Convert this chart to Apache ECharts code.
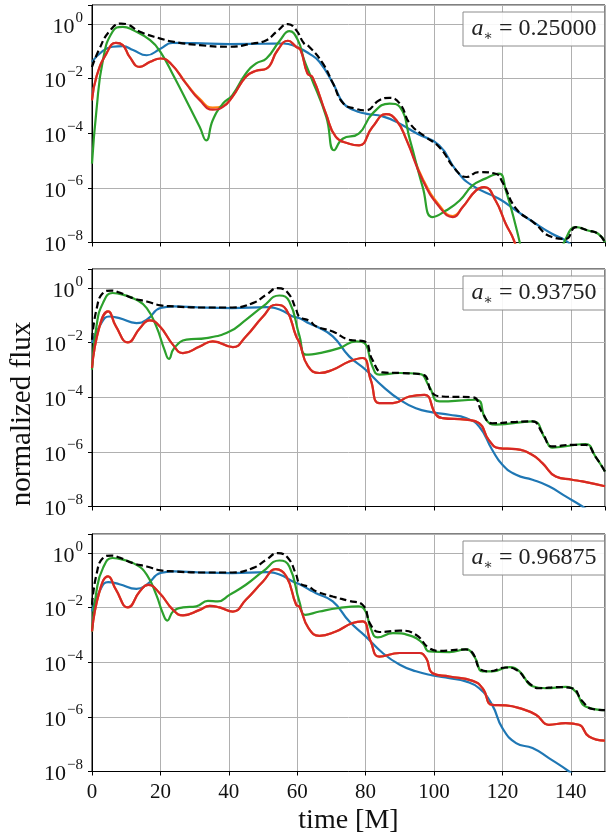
<!DOCTYPE html>
<html>
<head>
<meta charset="utf-8">
<script src="https://cdn.jsdelivr.net/npm/echarts@6/dist/echarts.min.js"></script>
<style>
html, body { margin: 0; padding: 0; background: #fff; }
#chart { width: 606px; height: 837px; }
</style>
</head>
<body>
<div id="chart"></div>
<script>
// values are log10(normalized flux); pairs are [time, log10 flux]
var spins = ['0.25000', '0.93750', '0.96875'];
var xTicks = [0, 20, 40, 60, 80, 100, 120, 140];
var yTicks = [-8, -6, -4, -2, 0];

var blue1 = [[0,-1.38],[3,-1.0],[6,-0.83],[9,-0.81],[12,-0.95],[16,-1.14],[20,-0.9],[23.5,-0.69],[30,-0.7],[40,-0.73],[50,-0.72],[56,-0.71],[59.7,-0.83],[63.5,-1.08],[66.5,-1.38],[70.5,-2.18],[73.5,-2.9],[76.5,-3.15],[80,-3.28],[85,-3.38],[90,-3.65],[95,-4.01],[101.5,-4.44],[106.5,-5.36],[111,-5.9],[119,-6.4],[124,-6.83],[129,-7.25],[134.5,-7.68],[138.5,-7.93],[142,-8.3],[150,-9]];
var orange1 = [[0,-2.79],[1.3,-1.93],[4.2,-1.08],[7,-0.69],[9,-0.77],[11,-1.2],[14,-1.57],[17,-1.38],[20,-1.26],[23,-1.44],[27.5,-2.16],[31.5,-2.74],[35.3,-3.06],[38.3,-3.0],[41,-2.67],[45,-1.93],[48,-1.71],[51,-1.63],[54.3,-0.95],[57.3,-0.61],[59.7,-0.83],[61,-0.95],[63,-1.81],[64.5,-1.95],[68.4,-3.28],[71.3,-4.13],[75.2,-4.38],[78.1,-4.44],[82,-3.77],[86,-3.3],[89,-3.52],[92,-4.24],[96.7,-5.66],[101.6,-6.64],[105.5,-7.03],[108.4,-6.7],[112.3,-6.09],[114.7,-5.97],[118,-6.46],[121,-7.32],[123.4,-7.93],[126,-9]];
var green1 = [[0,-5.11],[1.3,-3.16],[3.2,-1.32],[6,-0.28],[9,-0.1],[12,-0.22],[17,-0.59],[20,-1.02],[24,-1.93],[28.5,-3.03],[31.5,-3.77],[33.4,-4.26],[35.3,-3.52],[38.3,-2.91],[41,-2.61],[45,-1.81],[48,-1.44],[51,-1.26],[55,-0.59],[57.7,-0.26],[60.2,-0.59],[62,-1.3],[64,-1.93],[68.5,-3.4],[70.8,-4.62],[73.3,-4.2],[78,-4.01],[82,-3.28],[87,-2.91],[90,-3.03],[93,-4.26],[96.7,-5.97],[99.6,-7.07],[103.5,-6.83],[107.5,-6.46],[111.3,-5.91],[115,-5.66],[119,-5.48],[121,-6.09],[124,-7.44],[126,-8.5],[128,-9.5],[135,-9.5],[137,-8.5],[138.5,-7.87],[141.5,-7.44],[145,-7.56],[148,-7.68],[150,-7.99]];
var red1 = [[0,-2.79],[1.3,-1.93],[4.2,-1.08],[7,-0.69],[9,-0.77],[11,-1.2],[14,-1.57],[17,-1.38],[20,-1.26],[23,-1.44],[27.5,-2.18],[31.5,-2.79],[35.3,-3.13],[38.3,-3.03],[41,-2.67],[45,-1.93],[48,-1.71],[51,-1.63],[54.3,-0.95],[57.3,-0.61],[59.7,-0.83],[61,-0.95],[63,-1.81],[64.5,-1.95],[68.4,-3.28],[71.3,-4.13],[75.2,-4.38],[78.1,-4.44],[82,-3.77],[86,-3.3],[89,-3.52],[92,-4.26],[96.7,-5.72],[101.6,-6.7],[105.5,-7.07],[108.4,-6.7],[112.3,-6.09],[114.7,-5.97],[118,-6.46],[121,-7.32],[123.4,-7.93],[126,-9]];
var total1 = [[0,-1.57],[2,-0.95],[5,-0.28],[8.5,0.02],[10,0],[14,-0.28],[20,-0.53],[24,-0.65],[31.5,-0.77],[40,-0.83],[47,-0.71],[51,-0.59],[54,-0.28],[57.3,0],[59.7,-0.22],[62,-0.71],[63.5,-0.83],[67.5,-1.44],[70.5,-2.18],[73.5,-2.91],[77,-3.1],[80,-3.16],[84,-2.79],[87,-2.7],[90,-2.91],[93,-3.65],[97.5,-4.13],[101.5,-4.5],[106.5,-5.36],[109.5,-5.6],[113,-5.42],[118,-5.48],[120,-5.79],[124,-6.76],[129,-7.25],[134.5,-7.8],[138.5,-7.87],[141.5,-7.44],[145,-7.56],[148,-7.68],[150,-7.99]];

var blue2 = [[0,-2.01],[2.2,-1.4],[5,-1.04],[8,-1.1],[13,-1.28],[16,-1.16],[20,-0.73],[24,-0.67],[31.5,-0.71],[41,-0.73],[51,-0.7],[55,-0.79],[58.7,-1.04],[60.7,-1.1],[63.6,-1.3],[65.5,-1.4],[70.4,-1.77],[75.2,-2.5],[80,-2.99],[85,-3.6],[90,-4.09],[94.7,-4.4],[99.6,-4.55],[104.5,-4.64],[109.3,-4.76],[113.2,-5.07],[117,-5.92],[120,-6.47],[124,-6.84],[128.8,-7.02],[133.6,-7.26],[138.5,-7.63],[143.4,-8],[150,-8.6]];
var green2 = [[0,-2.99],[1.3,-1.4],[3.2,-0.55],[6,-0.18],[9,-0.24],[13,-0.43],[16,-0.73],[18.8,-1.4],[21.2,-2.26],[22.5,-2.59],[24,-2.2],[27.6,-1.89],[33.4,-1.83],[40.2,-1.59],[45,-1.16],[50,-0.67],[54.8,-0.27],[57.7,-0.49],[60.7,-1.77],[62.6,-2.44],[66.5,-2.38],[72.3,-2.2],[77.2,-1.95],[79.6,-2.01],[82,-2.87],[84,-3.17],[90,-3.11],[95.7,-3.14],[98.6,-3.6],[101.6,-4.15],[112.3,-4.09],[115.2,-4.82],[118,-5.0],[128.8,-4.88],[132.7,-5.55],[134.6,-5.84],[144.3,-5.71],[147.2,-6.17],[150,-6.72]];
var red2 = [[0,-2.93],[2.2,-1.4],[4.7,-0.85],[7,-1.4],[10.5,-1.99],[14,-1.47],[16.8,-1.18],[19.8,-1.4],[23.7,-2.08],[26.6,-2.38],[31.5,-2.14],[35.3,-1.95],[41.2,-2.16],[45,-1.77],[50,-1.04],[53.8,-0.61],[56.8,-0.79],[59.7,-1.77],[60.7,-2.01],[63.1,-2.85],[66.5,-3.11],[70.4,-2.99],[75.2,-2.69],[79.1,-2.56],[81.5,-3.36],[84,-4.21],[88,-4.21],[92.8,-3.97],[97.2,-3.91],[100.6,-4.64],[102.5,-4.76],[109.3,-4.82],[113.2,-4.95],[116,-5.56],[119,-5.86],[124,-5.9],[128.8,-6.11],[131.7,-6.41],[135.6,-6.9],[140.4,-7.02],[143.4,-7.08],[150,-7.26]];
var orange2 = red2;
var total2 = [[0,-1.89],[1.3,-0.79],[3.2,-0.18],[5.6,-0.09],[8,-0.16],[12,-0.37],[16,-0.49],[20,-0.63],[24,-0.67],[31.5,-0.71],[41,-0.71],[47,-0.55],[51,-0.24],[54.3,0],[57.3,-0.18],[59.7,-0.79],[60.7,-1.05],[63.6,-1.2],[65.5,-1.4],[70.4,-1.59],[75.2,-1.89],[79.6,-1.95],[82,-2.63],[85,-3.09],[90,-3.11],[96.7,-3.17],[99.6,-3.85],[102.5,-3.97],[111.3,-4.0],[114.2,-4.58],[117,-4.95],[124,-4.9],[128.8,-4.88],[131.7,-5.31],[134.6,-5.8],[140.4,-5.74],[144.3,-5.74],[147.2,-6.17],[150,-6.72]];

var blue3 = [[0,-2.14],[2.2,-1.4],[4.7,-1.06],[8,-1.14],[13,-1.31],[16,-1.16],[20,-0.73],[24,-0.67],[31.5,-0.71],[41,-0.73],[51,-0.7],[55,-0.79],[58.7,-1.04],[60.7,-1.14],[63.6,-1.34],[65.5,-1.47],[70.4,-1.77],[75.2,-2.5],[80,-3.05],[85,-3.66],[90,-4.09],[94.7,-4.33],[99.6,-4.48],[104.5,-4.58],[109.3,-4.7],[113.2,-4.95],[117,-5.56],[120,-6.41],[124,-6.96],[128.8,-7.14],[133.6,-7.51],[139.5,-8],[150,-9]];
var green3 = [[0,-2.87],[1.3,-1.4],[3.2,-0.55],[6,-0.18],[9,-0.24],[13,-0.43],[16,-0.79],[18.8,-1.53],[20.7,-2.2],[22,-2.47],[23.7,-2.14],[26.6,-1.99],[30.5,-1.95],[33.9,-1.75],[36.8,-1.77],[40.2,-1.53],[45,-1.16],[50,-0.67],[54.8,-0.27],[57.7,-0.49],[60.7,-1.8],[62.4,-2.26],[66.5,-2.14],[72.3,-2.01],[78,-1.95],[80,-2.14],[81.5,-2.75],[83.5,-3.09],[88,-2.93],[93.7,-3.05],[96.7,-3.3],[98.6,-3.6],[104.5,-3.63],[109.3,-3.53],[111.8,-3.79],[114.2,-4.33],[117,-4.33],[122,-4.18],[125,-4.33],[128.8,-4.88],[132.7,-4.95],[138.5,-4.9],[141.4,-5.07],[144.3,-5.62],[150,-5.75]];
var red3 = [[0,-2.87],[2.2,-1.4],[4.7,-0.85],[7,-1.34],[10.5,-1.99],[14,-1.4],[16.4,-1.16],[19.8,-1.47],[23.7,-2.08],[26.6,-2.28],[31.5,-2.08],[34.4,-1.93],[37.3,-1.99],[41.2,-2.14],[45,-1.71],[50,-1.04],[53.8,-0.59],[56.8,-0.85],[59.7,-1.89],[60.7,-1.97],[63.3,-2.75],[66.5,-3.03],[71.3,-2.87],[76.2,-2.56],[79.1,-2.5],[81.5,-3.24],[84,-3.79],[90,-3.66],[95.7,-3.66],[97.7,-3.85],[99.6,-4.4],[104.5,-4.52],[111.3,-4.68],[114.2,-4.95],[117,-5.56],[121,-5.58],[125,-5.68],[129.8,-5.92],[133.6,-6.29],[138.5,-6.23],[142.4,-6.29],[145.3,-6.72],[150,-6.87]];
var orange3 = red3;
var total3 = [[0,-1.89],[1.3,-0.79],[3.2,-0.18],[5.6,-0.09],[8,-0.16],[12,-0.37],[16,-0.49],[20,-0.63],[24,-0.67],[31.5,-0.71],[41,-0.71],[47,-0.55],[51,-0.24],[54.3,0],[57.3,-0.18],[59.7,-0.79],[60.7,-1.1],[63.6,-1.25],[65.5,-1.4],[70.4,-1.59],[75.2,-1.75],[79.1,-1.89],[81.5,-2.63],[84,-2.89],[90,-2.84],[94.7,-2.99],[98.6,-3.48],[101.6,-3.58],[109.3,-3.53],[111.3,-3.66],[113.7,-4.27],[116,-4.33],[121,-4.19],[124,-4.27],[127.8,-4.76],[130.7,-4.95],[136.6,-4.91],[140.4,-4.95],[143.4,-5.43],[146.3,-5.71],[150,-5.75]];

var panels = [
    {blue: blue1, orange: orange1, green: green1, red: red1, total: total1},
    {blue: blue2, orange: orange2, green: green2, red: red2, total: total2},
    {blue: blue3, orange: orange3, green: green3, red: red3, total: total3}
];
var colors = {blue: '#1f77b4', orange: '#ff7f0e', green: '#2ca02c', red: '#d62728', total: '#000'};

var serif = '"Liberation Serif", "DejaVu Serif", serif';
var gridTops = [5, 269, 534];
var gridH = 237.5;

var chart = echarts.init(document.getElementById('chart'));
var option = {
    animation: false,
    backgroundColor: '#fff',
    grid: [], xAxis: [], yAxis: [], series: [], graphic: []
};

gridTops.forEach(function (top, i) {
    option.grid.push({left: 92, right: 1, top: top, height: gridH, show: true,
        borderColor: '#000', borderWidth: 1, outerBoundsMode: 'none', containLabel: false});
    option.xAxis.push({
        type: 'value', gridIndex: i, min: 0, max: 150, interval: 20,
        axisLine: {show: true, onZero: false, lineStyle: {color: '#000', width: 1}},
        axisTick: {show: true, length: 4, lineStyle: {color: '#000'}},
        axisLabel: {show: i === 2, showMaxLabel: false, color: '#111', fontFamily: serif, fontSize: 21, margin: 10},
        splitLine: {show: true, lineStyle: {color: '#b0b0b0', width: 1}},
        name: i === 2 ? 'time [M]' : '', nameLocation: 'middle', nameGap: 35,
        nameTextStyle: {fontFamily: serif, fontSize: 28, color: '#111'}
    });
    option.yAxis.push({
        type: 'value', gridIndex: i, min: -8, max: 0.7, interval: 2,
        axisLine: {show: true, lineStyle: {color: '#000', width: 1}},
        axisTick: {show: true, length: 4, lineStyle: {color: '#000'}},
        axisLabel: {
            margin: 9, color: '#111',
            formatter: function (v) {
                if (yTicks.indexOf(v) < 0) return '';
                return '{b|10}{s|' + (v < 0 ? '\u2212' + (-v) : v) + '}';
            },
            rich: {
                b: {fontFamily: serif, fontSize: 22, color: '#111', lineHeight: 28, verticalAlign: 'bottom'},
                s: {fontFamily: serif, fontSize: 15, color: '#111', lineHeight: 28, verticalAlign: 'top', padding: [0, 0, 0, 1]}
            }
        },
        splitLine: {show: true, lineStyle: {color: '#b0b0b0', width: 1}}
    });
    ['blue', 'orange', 'green', 'red', 'total'].forEach(function (k) {
        option.series.push({
            type: 'line', xAxisIndex: i, yAxisIndex: i, data: panels[i][k],
            showSymbol: false, smooth: 0.5, clip: true,
            lineStyle: {color: colors[k], width: 2.2, type: k === 'total' ? [7, 3.5] : 'solid'},
            z: k === 'total' ? 5 : 3
        });
    });
    option.graphic.push({
        type: 'rect', z: 100,
        shape: {x: 463, y: top + 7, width: 141.5, height: 34},
        style: {fill: 'rgba(255,255,255,0.9)', stroke: '#8c8c8c', lineWidth: 1}
    });
    option.graphic.push({
        type: 'text', z: 101, x: 534, y: top + 24,
        style: {
            text: '{i|a}{u|\u2217}{n| = ' + spins[i] + '}',
            align: 'center', verticalAlign: 'middle',
            rich: {
                i: {fontFamily: serif, fontStyle: 'italic', fontSize: 24, fill: '#222', lineHeight: 28},
                u: {fontFamily: serif, fontSize: 14, fill: '#222', verticalAlign: 'bottom', lineHeight: 22},
                n: {fontFamily: serif, fontSize: 24, fill: '#222', lineHeight: 28}
            }
        }
    });
});

option.graphic.push({
    type: 'text', x: 22, y: 414, rotation: Math.PI / 2,
    style: {text: 'normalized flux', fontFamily: serif, fontSize: 29, fill: '#111',
        align: 'center', verticalAlign: 'middle'}
});

chart.setOption(option);
</script>
</body>
</html>
